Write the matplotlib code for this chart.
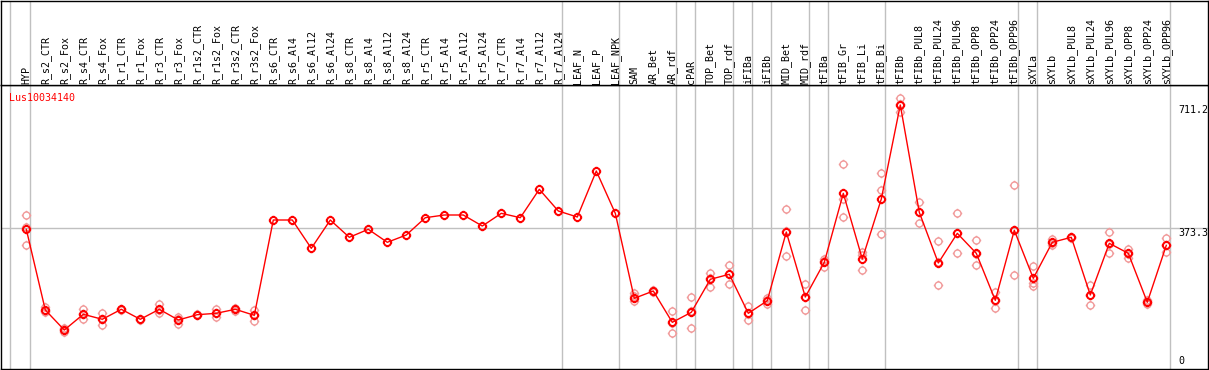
import matplotlib
matplotlib.use("Agg")
import matplotlib.pyplot as plt
from matplotlib.path import Path
import numpy as np

samples = ["HYP", "R_s2_CTR", "R_s2_Fox", "R_s4_CTR", "R_s4_Fox", "R_r1_CTR", "R_r1_Fox",
           "R_r3_CTR", "R_r3_Fox", "R_r1s2_CTR", "R_r1s2_Fox", "R_r3s2_CTR", "R_r3s2_Fox",
           "R_s6_CTR", "R_s6_Al4", "R_s6_Al12", "R_s6_Al24", "R_s8_CTR", "R_s8_Al4",
           "R_s8_Al12", "R_s8_Al24", "R_r5_CTR", "R_r5_Al4", "R_r5_Al12", "R_r5_Al24",
           "R_r7_CTR", "R_r7_Al4", "R_r7_Al12", "R_r7_Al24", "LEAF_N", "LEAF_P", "LEAF_NPK",
           "SAM", "AR_Bet", "AR_rdf", "cPAR", "TOP_Bet", "TOP_rdf", "iFIBa", "iFIBb",
           "MID_Bet", "MID_rdf", "tFIBa", "tFIB_Gr", "tFIB_Li", "tFIB_Bi", "tFIBb",
           "tFIBb_PUL8", "tFIBb_PUL24", "tFIBb_PUL96", "tFIBb_OPP8", "tFIBb_OPP24",
           "tFIBb_OPP96", "sXYLa", "sXYLb", "sXYLb_PUL8", "sXYLb_PUL24", "sXYLb_PUL96",
           "sXYLb_OPP8", "sXYLb_OPP24", "sXYLb_OPP96"]

means = [370.5, 149.4, 94.5, 137.6, 123.9, 151.3, 123.9, 151.3, 122.0, 136.5, 140.3, 151.3, 134.8,
         396.0, 396.0, 318.4, 396.0, 348.6, 370.5, 334.9, 354.9, 402.3, 409.7, 409.7, 379.5,
         414.3, 402.3, 480.1, 420.7, 404.2, 530.3, 414.3,
         181.4, 201.4, 115.6, 143.0, 233.5, 247.2, 140.3, 174.8, 363.1, 185.0,
         280.0, 469.1, 289.1, 453.5, 711.2, 417.0, 278.2, 359.5, 304.7, 175.9, 367.8,
         236.2, 334.9, 348.6, 190.5, 332.1, 304.7, 170.5, 326.6]

replicates = [[411, 378, 328], [158, 143, 147], [99, 88, 96], [151, 124, 138], [140, 108, 124],
              [153, 150], [125, 123], [165, 140, 150], [131, 110, 125], [138, 135],
              [151, 129, 141], [155, 147], [149, 120, 136],
              [], [], [], [], [], [], [], [], [], [], [], [], [], [], [], [], [], [], [],
              [195, 188, 175], [205, 198], [146.6, 115, 85.5], [184, 99, 146],
              [251.6, 213.2, 236], [272.7, 219.8, 249], [160, 122, 139], [183, 165, 176],
              [425.3, 298.2, 366], [220.6, 149.4, 185], [289, 268, 283],
              [548.6, 452.7, 403.4], [309, 300, 258], [524, 478, 356.8], [729.5, 691, 713],
              [444.5, 387, 419], [337.6, 217, 280], [414.3, 304.7, 359.5], [340.4, 271.8, 302],
              [197.9, 155.7, 174], [491, 244.5, 368], [270, 222, 215], [344.8, 326.6, 333],
              [350, 347], [217.9, 162.2, 191], [362.3, 304.7, 329], [317.3, 292.7, 304],
              [177, 165, 170], [345.8, 307.5, 326.6]]

gene = "Lus10034140"
ytick_values = [0, 373.3, 711.2]
ytick_labels = ["0", "373.3", "711.2"]
group_ends = ["HYP", "R_r7_Al24", "LEAF_NPK", "AR_rdf", "cPAR", "TOP_rdf", "iFIBa", "iFIBb",
              "MID_rdf", "tFIBa", "tFIB_Bi", "tFIBb_OPP96", "sXYLa", "sXYLb_OPP96"]

W, H = 1209, 370
fig = plt.figure(figsize=(W / 100, H / 100), dpi=100)
font = dict(family="DejaVu Sans Mono", size=7.2)

# marker: circle with four small ticks
circ = Path.unit_circle()
tk = 1.35
segs = Path([(0, 1), (0, tk), (0, -1), (0, -tk), (1, 0), (tk, 0), (-1, 0), (-tk, 0)],
            [Path.MOVETO, Path.LINETO] * 4)
mk = Path.make_compound_path(circ, segs)

xl = ((1 - 26.3) / 19, (1208 - 26.3) / 19)
ax = fig.add_axes([1 / W, 1 / H, 1207 / W, 284 / H])
ax.set_xlim(*xl)
ax.set_ylim((364.5 - 369) / 0.3649, (364.5 - 85) / 0.3649)
ax.set_xticks([]); ax.set_yticks([])
for s in ax.spines.values():
    s.set_color("black"); s.set_linewidth(1)

hd = fig.add_axes([1 / W, 285 / H, 1207 / W, 84.5 / H], sharex=ax)
hd.set_ylim(0, 1)
hd.set_xticks([]); hd.set_yticks([])
for s in hd.spines.values():
    s.set_color("black"); s.set_linewidth(1)

x = np.arange(len(samples))
sep = [(10 - 26.3) / 19] + [samples.index(g) + 4 / 19 for g in group_ends]
for a in (ax, hd):
    for v in sep:
        a.axvline(v, color="#c0c0c0", lw=1, zorder=0)
ax.axhline(ytick_values[1], color="#c0c0c0", lw=1, zorder=0)

for i, reps in enumerate(replicates):
    if reps:
        ax.plot([i] * len(reps), reps, linestyle="none", marker=mk, ms=6.8,
                mfc="none", mec="#f19a9a", mew=1.0, zorder=2)
ax.plot(x, means, color="red", lw=1, zorder=3)
ax.plot(x, means, linestyle="none", marker=mk, ms=6.8, mfc="none", mec="red",
        mew=1.4, zorder=4)

for i, name in enumerate(samples):
    hd.text(i, 1.5 / 84.5, name, rotation=90, ha="center", va="bottom", color="black", **font)

fig.text(9.5 / W, (H - 98) / H, gene, color="red", ha="left", va="center", **font)

for v, lab in zip(ytick_values, ytick_labels):
    va = "top" if v > 0 else "center"
    ax.text(1178.5 / W * 0 + (1178.5 - 26.3) / 19, v if v > 0 else 9, lab, ha="left", va=va,
            color="black", clip_on=True, **font)

fig.savefig("out.png", dpi=100)
